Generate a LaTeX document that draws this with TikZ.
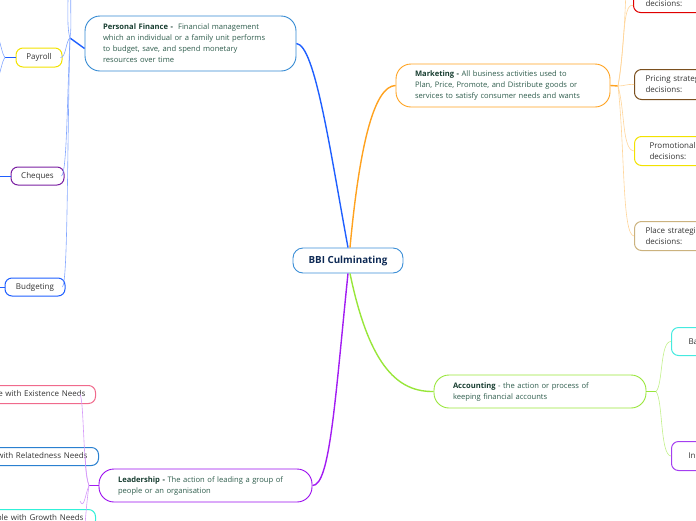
\documentclass[tikz,border=0pt]{standalone}
\usepackage{fontspec}
\setmainfont{Open Sans}
\usetikzlibrary{positioning}

\definecolor{bodytxt}{HTML}{2E5C4C}
\definecolor{headtxt}{HTML}{173D30}
\definecolor{rootTxt}{HTML}{0E2A55}
\definecolor{leafTxt}{HTML}{333333}
\definecolor{rootLine}{HTML}{3B8ED6}
\definecolor{pfBlue}{HTML}{1F5FFF}
\definecolor{pfBox}{HTML}{3389D2}
\definecolor{mkOrange}{HTML}{FFA21F}
\definecolor{acGreen}{HTML}{98E63A}
\definecolor{ldPurple}{HTML}{A21CF2}
\definecolor{ldBox}{HTML}{9A0BEE}
\definecolor{payYellow}{HTML}{F2E200}
\definecolor{chqPurple}{HTML}{7A1FA2}
\definecolor{prRed}{HTML}{E00000}
\definecolor{prBrown}{HTML}{7A4F1E}
\definecolor{plTan}{HTML}{CBB27E}
\definecolor{baCyan}{HTML}{45EAE0}
\definecolor{inPurple}{HTML}{A43EF0}
\definecolor{exPink}{HTML}{F06A8C}
\definecolor{reBlue}{HTML}{2A80D0}
\definecolor{grCyan}{HTML}{30F0D8}

\begin{document}
\begin{tikzpicture}[x=1pt, y=-1pt,
    topic/.style={draw, line width=0.9pt, rounded corners=15pt, align=left,
        text=bodytxt, font=\fontsize{7.6}{11}\selectfont, inner ysep=0pt},
    leaf/.style={draw, line width=1pt, rounded corners=7pt, text=leafTxt,
        font=\fontsize{8}{11}\selectfont, inner sep=0pt},
    branch/.style={line width=1.4pt},
    twig/.style={line width=0.6pt}]
    \useasboundingbox (0,0) rectangle (696,520);
    \clip (0,0) rectangle (696,520);

    % Central topic
    \node[draw=rootLine, line width=0.9pt, rounded corners=10pt, minimum width=110pt,
        minimum height=25pt, inner sep=0pt, text=rootTxt,
        font=\fontsize{9.8}{11}\selectfont\bfseries] (root) at (348,260.5) {BBI Culminating};

    % Main topics
    \node[topic, draw=pfBox, text width=175pt, inner xsep=18pt, minimum height=55pt]
        (finance) at (190.5,43.5) {\textcolor{headtxt}{\textbf{Personal Finance -}}\ \ Financial management\\
        which an individual or a family unit performs\\
        to budget, save, and spend monetary\\
        resources over time};
    \node[topic, draw=mkOrange, text width=176pt, inner xsep=19pt, minimum height=43pt]
        (marketing) at (503,85.5) {\textcolor{headtxt}{\textbf{Marketing -}} All business activities used to\\
        Plan, Price, Promote, and Distribute goods or\\
        services to satisfy consumer needs and wants};
    \node[topic, draw=acGreen, text width=174pt, inner xsep=19pt, minimum height=33pt]
        (accounting) at (540,391.5) {\textcolor{headtxt}{\textbf{Accounting}} - the action or process of\\
        keeping financial accounts};
    \node[topic, draw=ldBox, text width=175pt, inner xsep=19pt, minimum height=33pt]
        (leadership) at (205.5,485.5) {\textcolor{headtxt}{\textbf{Leadership -}} The action of leading a group of\\
        people or an organisation};

    % Personal finance subtopics
    \node[leaf, draw=payYellow, minimum width=46pt, minimum height=19pt] (payroll) at (39,57.5) {Payroll};
    \node[leaf, draw=chqPurple, minimum width=53pt, minimum height=18pt] (cheques) at (37.5,176) {Cheques};
    \node[leaf, draw=pfBlue, minimum width=60pt, minimum height=18pt] (budgeting) at (35,287) {Budgeting};

    % Marketing subtopics
    \node[leaf, draw=prRed, anchor=south west, text width=80pt, minimum height=30pt,
        align=left, inner xsep=12pt] (product) at (633,13) {\strut\\decisions:};
    \node[leaf, draw=prBrown, anchor=north west, text width=80pt, minimum height=30pt,
        align=left, inner xsep=11pt] (pricing) at (634,69) {Pricing strategy\\decisions:};
    \node[leaf, draw=payYellow, anchor=north west, text width=80pt, minimum height=29pt,
        align=left, inner xsep=15pt] (promotion) at (634,136) {Promotional\\decisions:};
    \node[leaf, draw=plTan, anchor=north west, text width=80pt, minimum height=29pt,
        align=left, inner xsep=11pt] (place) at (634,221) {Place strategies\\decisions:};

    % Accounting subtopics
    \node[leaf, draw=baCyan, anchor=north west, text width=50pt, minimum height=28pt,
        align=left, inner xsep=17pt] (balance) at (671,327) {Ba};
    \node[leaf, draw=inPurple, anchor=north west, text width=50pt, minimum height=29pt,
        align=left, inner xsep=17pt] (income) at (671,441) {In};

    % Leadership subtopics
    \node[leaf, draw=exPink, anchor=north east, text width=130pt, minimum height=18pt,
        align=right, inner xsep=10pt] (existence) at (96,385) {People with Existence Needs};
    \node[leaf, draw=reBlue, anchor=north east, text width=130pt, minimum height=18pt,
        align=right, inner xsep=11pt] (related) at (99,447) {People with Relatedness Needs};
    \node[leaf, draw=grCyan, anchor=north east, text width=130pt, minimum height=18pt,
        align=right, inner xsep=12pt] (growth) at (96,509) {People with Growth Needs};

    % Main branches
    \draw[branch, pfBlue] (root.north) .. controls (330,150) and (315,45) .. (finance.east);
    \draw[branch, mkOrange] ([xshift=2pt]root.north) .. controls (360,140) and (375,86) .. (marketing.west);
    \draw[branch, ldPurple] (root.south) .. controls (335,400) and (330,486) .. (leadership.east);
    \draw[branch, acGreen] ([xshift=2pt]root.south) .. controls (370,370) and (400,392) .. (accounting.west);

    % Personal finance twigs
    \coordinate (pfHub) at (70,38);
    \coordinate (pfUpA) at (68,-5);
    \coordinate (pfUpB) at (71,-5);
    \draw[branch, pfBlue] ([yshift=-5pt]finance.west) -- (pfHub);
    \draw[twig, pfBlue!55] (pfHub) .. controls (66,40) and (66,58) .. ([xshift=-2pt]payroll.east);
    \draw[twig, pfBlue!55] (pfHub) .. controls (67,100) and (67,172) .. ([xshift=-3pt]cheques.east);
    \draw[twig, pfBlue!55] (pfHub) .. controls (67,150) and (68,280) .. ([xshift=-3pt]budgeting.east);
    \draw[twig, pfBlue!55] (pfHub) .. controls (67,30) and (68,10) .. (pfUpA);
    \draw[twig, pfBlue!55] (pfHub) .. controls (72,25) and (70,10) .. (pfUpB);

    % Payroll, cheques and budgeting twigs
    \coordinate (payHub) at (5,57.5);
    \coordinate (payUp) at (-4,30);
    \coordinate (payDown) at (-4,85);
    \coordinate (chqEnd) at (-5,176);
    \coordinate (budEnd) at (-5,287);
    \draw[branch, pfBlue] (payroll.west) -- (payHub);
    \draw[twig, pfBlue!55] (payHub) .. controls (2,54) and (1,44) .. (payUp);
    \draw[twig, pfBlue!55] (payHub) .. controls (2,61) and (1,71) .. (payDown);
    \draw[line width=0.9pt, pfBlue] (cheques.west) -- (chqEnd);
    \draw[line width=0.9pt, pfBlue] (budgeting.west) -- (budEnd);

    % Marketing twigs
    \coordinate (mkHub) at (618,86);
    \coordinate (mkUp) at (626,-8);
    \draw[branch, mkOrange] (marketing.east) -- (mkHub);
    \draw[twig, mkOrange!45] (mkHub) .. controls (625,50) and (622,2) .. ([yshift=-8pt]product.west);
    \draw[twig, mkOrange!45] (mkHub) .. controls (624,50) and (625,10) .. (mkUp);
    \draw[twig, mkOrange!45] (mkHub) .. controls (625,86) and (626,84) .. (pricing.west);
    \draw[twig, mkOrange!45] (mkHub) .. controls (625,110) and (622,150) .. (promotion.west);
    \draw[twig, mkOrange!45] (mkHub) .. controls (625,150) and (622,235) .. (place.west);

    % Accounting twigs
    \coordinate (acHub) at (656,391.5);
    \draw[branch, acGreen] (accounting.east) -- (acHub);
    \draw[twig, acGreen!60] (acHub) .. controls (663,385) and (660,341) .. (balance.west);
    \draw[twig, acGreen!60] (acHub) .. controls (663,400) and (660,455) .. (income.west);

    % Leadership twigs
    \coordinate (ldHub) at (89,485.5);
    \coordinate (ldDown) at (85,525);
    \draw[branch, ldPurple] (leadership.west) -- (ldHub);
    \draw[twig, ldPurple!45] (ldHub) .. controls (83,470) and (84,400) .. ([xshift=-16pt]existence.east);
    \draw[twig, ldPurple!45] (ldHub) .. controls (85,475) and (86,462) .. ([xshift=-14pt]related.east);
    \draw[twig, ldPurple!45] (ldHub) .. controls (85,495) and (84,510) .. ([xshift=-16pt,yshift=8pt]growth.north east);
    \draw[twig, ldPurple!45] (ldHub) .. controls (87,500) and (86,512) .. (ldDown);
\end{tikzpicture}
\end{document}
